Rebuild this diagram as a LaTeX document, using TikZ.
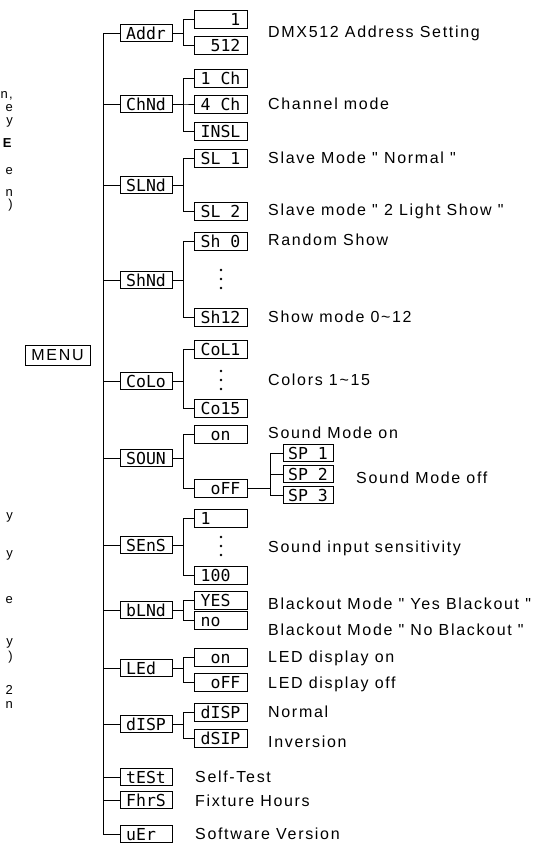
\documentclass[tikz,border=0pt]{standalone}
\usepackage{fontspec}
\setmainfont[LetterSpace=10.5]{Liberation Sans}
\newfontfamily\segfont{DejaVu Sans Mono}
\usetikzlibrary{positioning,calc}
\newcommand{\dgap}{\phantom{0}}
\newcommand{\qq}{\textquotedbl}
\tikzset{
  lcd/.style     ={draw, line width=0.7pt, inner sep=0pt, align=center,
                   font=\segfont\fontsize{16.5}{16.5}\selectfont},
  menuitem/.style={lcd, minimum width=52pt, minimum height=17pt},
  optitem/.style ={lcd, minimum width=53pt, minimum height=18pt},
  spitem/.style  ={lcd, minimum width=50pt, minimum height=17pt},
  desc/.style    ={anchor=west, inner sep=0pt, font=\fontsize{16}{16}\selectfont},
  frag/.style    ={anchor=mid east, inner sep=0pt, font=\fontsize{13}{13}\selectfont},
  wire/.style    ={line width=0.8pt},
  dot/.style     ={circle, fill, inner sep=0pt, minimum size=2.6pt},
}
% first level of the menu: name/y/display
\def\mainlist{addr/33/Addr, chnd/104/ChNd, slnd/185/SLNd, shnd/280/ShNd,
  colo/381/CoLo, soun/458/SOUN, sens/545/SEnS, blnd/610/bLNd,
  led/668/LEd\dgap, disp/724/dISP, test/777/tESt, fhrs/800/FhrS, uer/834/uEr\dgap}
% second level: name/y/display/parent
\def\sublist{a1/19.5/\dgap\dgap\dgap 1/addr, a2/45.5/\dgap 512/addr,
  c1/78/1\dgap Ch/chnd, c2/104/4\dgap Ch/chnd, c3/131/INSL/chnd,
  s1/158/SL\dgap 1/slnd, s2/211/SL\dgap 2/slnd,
  h1/241/Sh\dgap 0/shnd, h2/317/Sh12/shnd,
  o1/349/CoL1/colo, o2/408/Co15/colo,
  n1/434/\dgap on\dgap/soun, n2/488/\dgap oFF/soun,
  e1/518/1\dgap\dgap\dgap/sens, e2/575/100\dgap/sens,
  b1/600/YES\dgap/blnd, b2/620/no\dgap\dgap/blnd,
  l1/657/\dgap on\dgap/led, l2/682/\dgap oFF/led,
  d1/712/dISP/disp, d2/738/dSIP/disp}
\def\desclist{268/33/DMX512 Address Setting, 268/104/Channel mode,
  268/158/Slave Mode \qq\ Normal \qq, 268/211/Slave mode \qq\ 2 Light Show \qq,
  268/240/Random Show, 268/317/Show mode 0\textasciitilde 12,
  268/380/Colors 1\textasciitilde 15, 268/433/Sound Mode on,
  356/478/Sound Mode off, 268/548/Sound input sensitivity,
  268/604/Blackout Mode \qq\ Yes Blackout \qq, 268/630/Blackout Mode \qq\ No Blackout \qq,
  268/658/LED display on, 268/684/LED display off,
  268/712/Normal, 268/742/Inversion,
  195/777/Self-Test, 195/801/Fixture Hours, 195/834/Software Version}
% clipped words of the neighbouring column
\def\fraglist{f1/96/{n,}, f2/108.5/e, f3/121.5/y, f4/145/\textbf{E}, f5/172/e,
  f6/194/n, f7/206/), f8/517/y, f9/555/y, f10/601/e, f11/643/y,
  f12/658/), f13/692/2, f14/706/n}

\begin{document}
\begin{tikzpicture}[x=1pt,y=-1pt]
\useasboundingbox (0,0) rectangle (548,846);

\node[draw, line width=0.7pt, minimum width=65pt, minimum height=20pt, inner sep=0pt,
      font=\fontsize{16}{16}\selectfont] (menu) at (57.5,355) {MENU};

\coordinate (trunk) at (103,0);
\foreach \n/\y/\t in \mainlist
  {\node[menuitem] (\n) at (146,\y) {\t};
   \draw[wire] (\n.west) -- (\n.west -| trunk);}
\draw[wire] (addr.west -| trunk) -- (uer.west -| trunk);

\foreach \n/\y/\t/\p in \sublist
  {\node[optitem] (\n) at (220.5,\y) {\t};
   \draw[wire] (\p.east) -- ++(11,0) |- (\n.west);}

% the three sound programs under "off"
\foreach \n/\y/\t in {p1/453/1, p2/474/2, p3/495/3}
  {\node[spitem] (\n) at (308,\y) {SP\dgap \t};
   \draw[wire] (n2.east) -- ++(23,0) |- (\n.west);}

\foreach \n/\y in {dA/279, dB/380, dC/546}
  \foreach \k in {0,1,2}
    {\node[dot] (\n\k) at (221,\y-9+9*\k) {};}

\foreach \x/\y/\t [count=\i] in \desclist
  {\node[desc] (lbl\i) at (\x,\y) {\t};}

\foreach \n/\y/\t in \fraglist
  {\node[frag] (\n) at (13,\y) {\t};}
\end{tikzpicture}
\end{document}
